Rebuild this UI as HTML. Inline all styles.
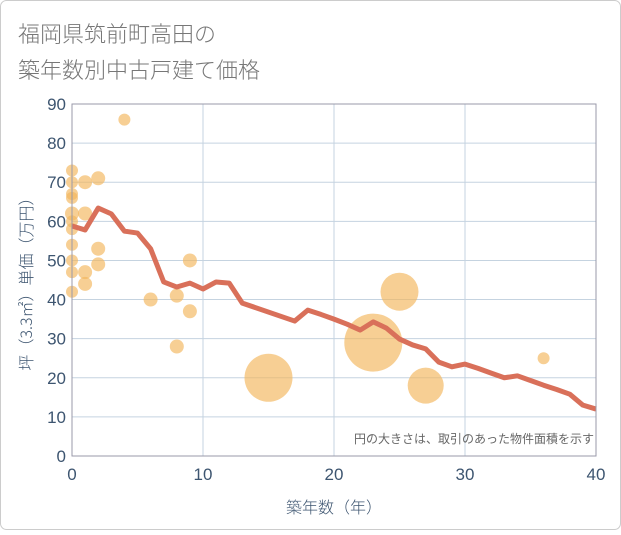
<!DOCTYPE html>
<html><head><meta charset="utf-8"><style>
body{margin:0;background:#fff;font-family:"Liberation Sans","Noto Sans CJK JP",sans-serif;}
</style></head><body>
<svg id="c" width="621" height="530" xmlns="http://www.w3.org/2000/svg">
<rect x="0.5" y="0.5" width="620" height="529" rx="6" fill="#fff" stroke="#ccc"/>
<text x="18" y="42" font-size="22" fill="#777" font-family="Noto Sans CJK JP, sans-serif" font-weight="300">福岡県筑前町高田の</text>
<text x="18" y="78" font-size="22" fill="#777" font-family="Noto Sans CJK JP, sans-serif" font-weight="300">築年数別中古戸建て価格</text>
<g id="grid"></g><g id="bubbles"></g><g id="line"></g><g id="axes"></g>
<text x="594" y="443" font-size="12" fill="#666" text-anchor="end">円の大きさは、取引のあった物件面積を示す</text>
<text x="334" y="513" font-size="16" fill="#3d5570" font-family="Noto Sans CJK JP, sans-serif" font-weight="300" text-anchor="middle">築年数（年）</text>
<text transform="translate(32,280) rotate(-90)" font-size="16" fill="#3d5570" font-family="Noto Sans CJK JP, sans-serif" font-weight="300" text-anchor="middle">坪（3.3㎡）単価（万円）</text>
</svg>
<script>
const xTicks=[0,10,20,30,40];
const yTicks=[0,10,20,30,40,50,60,70,80,90];
const lineYears=[0,1,2,3,4,5,6,7,8,9,10,11,12,13,17,18,19,20,21,22,23,24,25,26,27,28,29,30,31,32,33,34,35,36,37,38,39,40];
const lineValues=[58.8,57.8,63.4,61.9,57.5,57,53,44.5,43.2,44.2,42.7,44.5,44.2,39.1,34.5,37.3,36.2,35,33.7,32.2,34.3,32.7,29.9,28.4,27.4,24,22.8,23.5,22.4,21.2,20,20.5,19.3,18.1,17,15.8,13,12];
const bubbleYears=[4,0,0,0,0,1,2,0,1,0,0,0,2,0,0,1,2,1,0,6,8,9,9,8,15,23,25,27,36];
const bubbleValues=[86,73,70,67,66,70,71,62,62,60,58,54,53,50,47,47,49,44,42,40,41,50,37,28,20,29,42,18,25];
const bubbleSizes=[6,6,6,6,6,7,7,7,7,6,6,6,7,6,6,7,7,7,6,7,7,7,7,7,24,29,19,18,6];
const X0=72,X1=596,Y0=456,Y1=104;
const sx=v=>X0+(v-0)/40*(X1-X0), sy=v=>Y0-(v/90)*(Y0-Y1);
const NS="http://www.w3.org/2000/svg";
function mk(t,a,p){const e=document.createElementNS(NS,t);for(const k in a)e.setAttribute(k,a[k]);document.getElementById(p).appendChild(e);return e;}
xTicks.forEach(t=>{const e=mk('line',{x1:sx(t),x2:sx(t),y1:Y1,y2:Y0,stroke:'#c5d3e0'},'grid');


const l=mk('text',{x:sx(t),y:Y0+24,'font-size':17,fill:'#3d5570','text-anchor':'middle'},'axes');l.textContent=t;

});
yTicks.forEach(t=>{const e=mk('line',{x1:X0,x2:X1,y1:sy(t),y2:sy(t),stroke:'#c5d3e0'},'grid');


const l=mk('text',{x:X0-6,y:sy(t)+6,'font-size':17,fill:'#3d5570','text-anchor':'end'},'axes');l.textContent=t;

});
const b=mk('rect',{x:X0,y:Y1,width:X1-X0,height:Y0-Y1,fill:'none',stroke:'#99a'},'axes');


bubbleYears.forEach((yr,i)=>{const c=mk('circle',{cx:sx(yr),cy:sy(bubbleValues[i]),r:bubbleSizes[i],fill:'#f2b65a','fill-opacity':0.65},'bubbles');

});
const p=mk('polyline',{points:lineYears.map((y,i)=>sx(y)+','+sy(lineValues[i])).join(' '),fill:'none',stroke:'#d9705a','stroke-width':5,'stroke-linejoin':'round'},'line');


</script>
</body></html>
